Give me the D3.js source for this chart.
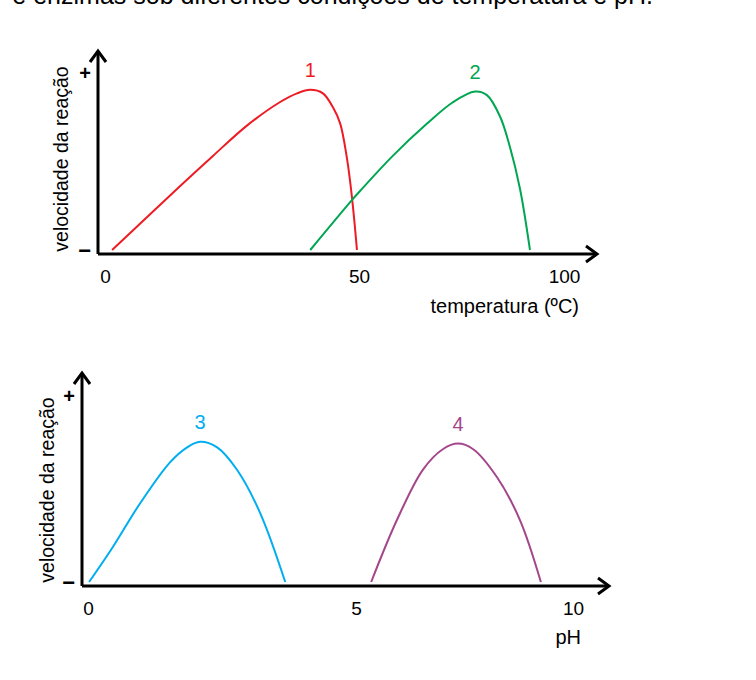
<!DOCTYPE html>
<html>
<head>
<meta charset="utf-8">
<script src="https://cdn.jsdelivr.net/npm/d3@7"></script>
<style>
  body { margin: 0; background: #fff; }
  text { font-family: "Liberation Sans", Arial, sans-serif; }
</style>
</head>
<body>
<div id="chart-area"></div>
<script>
// data (rate is relative: 0 = "−", 1 = "+")
var tempTicks = [0, 50, 100];
var phTicks = [0, 5, 10];

var temp1 = [1.4, 14.8, 21.3, 28.0, 34.4, 37.8, 40.4, 42.9, 44.9, 46.3, 47.6, 48.6, 49.6];
var rate1 = [0, 0.36, 0.53, 0.70, 0.83, 0.88, 0.90, 0.88, 0.80, 0.71, 0.52, 0.30, 0];

var temp2 = [40.4, 48.6, 50.2, 58.3, 66.6, 72.9, 78.3, 81.2, 84.4, 86.8, 89.3, 91.7];
var rate2 = [0, 0.28, 0.33, 0.53, 0.71, 0.83, 0.89, 0.87, 0.75, 0.58, 0.34, 0];

var ph3 = [0.02, 0.47, 0.97, 1.53, 1.85, 2.09, 2.41, 2.78, 3.21, 3.68];
var rate3 = [0, 0.19, 0.42, 0.64, 0.72, 0.75, 0.72, 0.60, 0.37, 0];

var ph4 = [5.35, 5.94, 6.54, 7.00, 7.35, 7.70, 8.25, 8.78, 9.26];
var rate4 = [0, 0.33, 0.60, 0.71, 0.74, 0.71, 0.56, 0.33, 0];

var yLabel = "velocidade da reação";
var font = "\"Liberation Sans\", Arial, sans-serif";

var svg = d3.select("#chart-area").append("svg")
  .attr("width", 756)
  .attr("height", 680);

// caption cut off by the top edge
svg.append("text")
  .attr("x", 653)
  .attr("y", 4)
  .attr("font-size", "25px")
  .attr("text-anchor", "end")
  .attr("fill", "#000")
  .text("e enzimas sob diferentes condições de temperatura e pH.");

function drawPanel(p) {
  var g = svg.append("g");

  // arrows for both axes
  g.append("path")
    .attr("d", "M" + p.ox + "," + p.oy + "H" + p.xEnd + "M" + p.ox + "," + p.oy + "V" + p.yEnd)
    .attr("stroke", "#000").attr("stroke-width", 3).attr("fill", "none");
  g.append("path")
    .attr("d", "M" + (p.xEnd - 11) + "," + (p.oy - 8) + "L" + p.xEnd + "," + p.oy + "L" + (p.xEnd - 11) + "," + (p.oy + 8))
    .attr("stroke", "#000").attr("stroke-width", 3).attr("fill", "none");
  g.append("path")
    .attr("d", "M" + (p.ox - 8) + "," + (p.yEnd + 11) + "L" + p.ox + "," + p.yEnd + "L" + (p.ox + 8) + "," + (p.yEnd + 11))
    .attr("stroke", "#000").attr("stroke-width", 3).attr("fill", "none");

  // X tick labels
  var xAxisCall = d3.axisBottom(p.x)
    .tickValues(p.ticks)
    .tickSize(0)
    .tickPadding(16);
  var xa = g.append("g")
    .attr("transform", "translate(0," + p.oy + ")")
    .call(xAxisCall);
  xa.select(".domain").remove();
  xa.selectAll("text")
    .attr("font-size", "19px")
    .attr("font-family", font)
    .attr("fill", "#000");

  // Y "−" / "+" marks
  var yAxisCall = d3.axisLeft(p.y)
    .tickValues([0, 1])
    .tickSize(0)
    .tickPadding(7)
    .tickFormat(function(d) { return d ? "+" : "−"; });
  var ya = g.append("g")
    .attr("transform", "translate(" + p.ox + ",0)")
    .call(yAxisCall);
  ya.select(".domain").remove();
  ya.selectAll("text")
    .attr("font-family", font)
    .attr("fill", "#000")
    .attr("dy", "0.35em")
    .attr("font-size", function(d) { return d ? "20px" : "22px"; })
    .attr("font-weight", "bold");

  // X label
  g.append("text")
    .attr("x", p.xLabelX)
    .attr("y", p.xLabelY)
    .attr("font-size", "20px")
    .attr("text-anchor", "end")
    .text(p.xLabel);

  // Y label
  g.append("text")
    .attr("x", -p.yLabelY)
    .attr("y", p.yLabelX)
    .attr("font-size", "19.5px")
    .attr("text-anchor", "middle")
    .attr("transform", "rotate(-90)")
    .text(yLabel);

  var line = d3.line()
    .x(function(d) { return p.x(d[0]); })
    .y(function(d) { return p.y(d[1]); })
    .curve(d3.curveCatmullRom.alpha(0.5));

  p.series.forEach(function(s) {
    var pts = d3.zip(s.xs, s.ys);
    g.append("path")
      .datum(pts)
      .attr("d", line)
      .attr("fill", "none")
      .attr("stroke", s.color)
      .attr("stroke-width", 2);

    var peak = pts[d3.maxIndex(s.ys)];
    g.append("text")
      .attr("x", p.x(peak[0]))
      .attr("y", p.y(peak[1]) - 13)
      .attr("font-size", "20px")
      .attr("text-anchor", "middle")
      .attr("fill", s.color)
      .text(s.name);
  });
}

drawPanel({
  x: d3.scaleLinear().domain([0, 50, 100]).range([105, 359, 564]),
  y: d3.scaleLinear().domain([0, 1]).range([250, 72]),
  ticks: tempTicks,
  ox: 98, oy: 254, xEnd: 597, yEnd: 51,
  xLabel: "temperatura (ºC)", xLabelX: 579, xLabelY: 313,
  yLabelX: 68, yLabelY: 159,
  series: [
    { name: "1", xs: temp1, ys: rate1, color: "#ed1c24" },
    { name: "2", xs: temp2, ys: rate2, color: "#00a651" }
  ]
});

drawPanel({
  x: d3.scaleLinear().domain([0, 5, 10]).range([88, 356, 573]),
  y: d3.scaleLinear().domain([0, 1]).range([582, 395]),
  ticks: phTicks,
  ox: 82, oy: 586, xEnd: 609, yEnd: 373,
  xLabel: "pH", xLabelX: 581, xLabelY: 644,
  yLabelX: 54, yLabelY: 490,
  series: [
    { name: "3", xs: ph3, ys: rate3, color: "#00aeef" },
    { name: "4", xs: ph4, ys: rate4, color: "#a4468b" }
  ]
});
</script>
</body>
</html>
